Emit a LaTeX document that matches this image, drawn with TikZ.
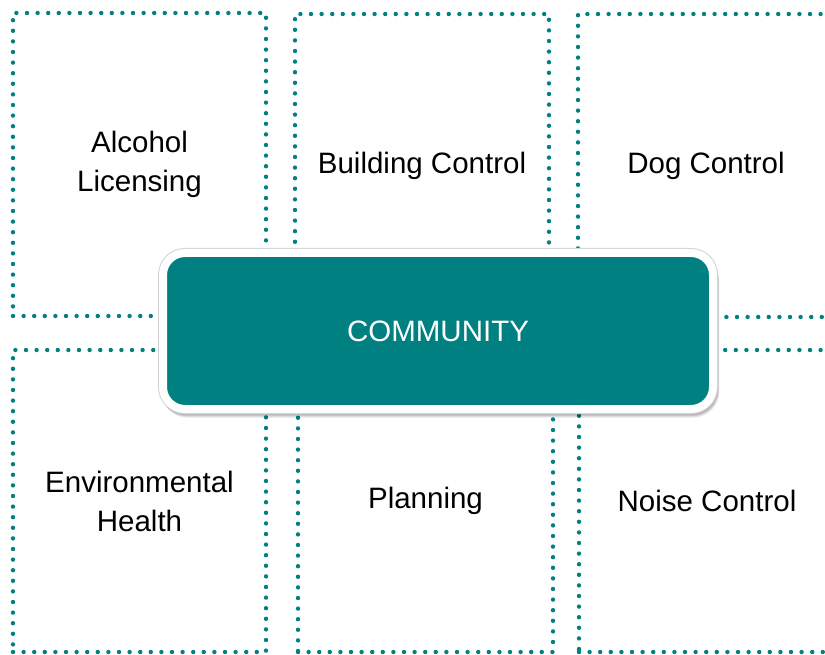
\documentclass[tikz,border=0pt]{standalone}
\usepackage{fontspec}
\setmainfont{Liberation Sans}
\definecolor{tealmain}{RGB}{0,128,128}
\begin{document}
\begin{tikzpicture}[x=1pt,y=-1pt,
  area/.style={draw=tealmain, line width=4.4pt, line cap=round,
    dash pattern=on 0pt off 10.6pt, minimum width=#1, inner sep=0pt, outer sep=0pt,
    font=\fontsize{29.5}{39}\selectfont, align=center, text=black},
  area/.default=253pt,
  hub/.style={fill=tealmain, draw=white, line width=8pt, rounded corners=22pt,
    minimum width=550pt, minimum height=156pt, inner sep=0pt,
    font=\fontsize{29.5}{34}\selectfont, text=white}]
\useasboundingbox (0,0) rectangle (825,655);
\clip (0,0) rectangle (825,655);
\fill[white] (0,0) rectangle (825,655);

% six dotted service areas
\node[area=253pt, minimum height=303pt] (alcohol)  at (139.5,164.5) {Alcohol\\Licensing};
\node[area=254pt, minimum height=303pt] (building) at (422,165.5)   {Building Control};
\node[area=256pt, minimum height=303pt] (dog)      at (706,165.5)   {Dog Control};
\node[area=253pt, minimum height=302pt] (envhealth) at (139.5,501)  {Environmental\\Health};
\node[area=255pt, minimum height=302pt] (planning) at (425.5,501)   {Planning};
\node[area=256pt, minimum height=302pt] (noise)    at (707,501)     {Noise Control};

% soft shadow under the central box
\foreach \s/\o in {6/0.06,5/0.07,4/0.08,3/0.09}{
  \fill[black, opacity=\o, rounded corners=26pt]
    (159+\s*0.4,249+\s) rectangle (717+\s*0.4,413+\s*0.8);
}

% central community box with a faint rim
\fill[black!18, rounded corners=27pt] (158,248) rectangle (718,414);
\node[hub] (community) at (438,331) {COMMUNITY};
\end{tikzpicture}
\end{document}
